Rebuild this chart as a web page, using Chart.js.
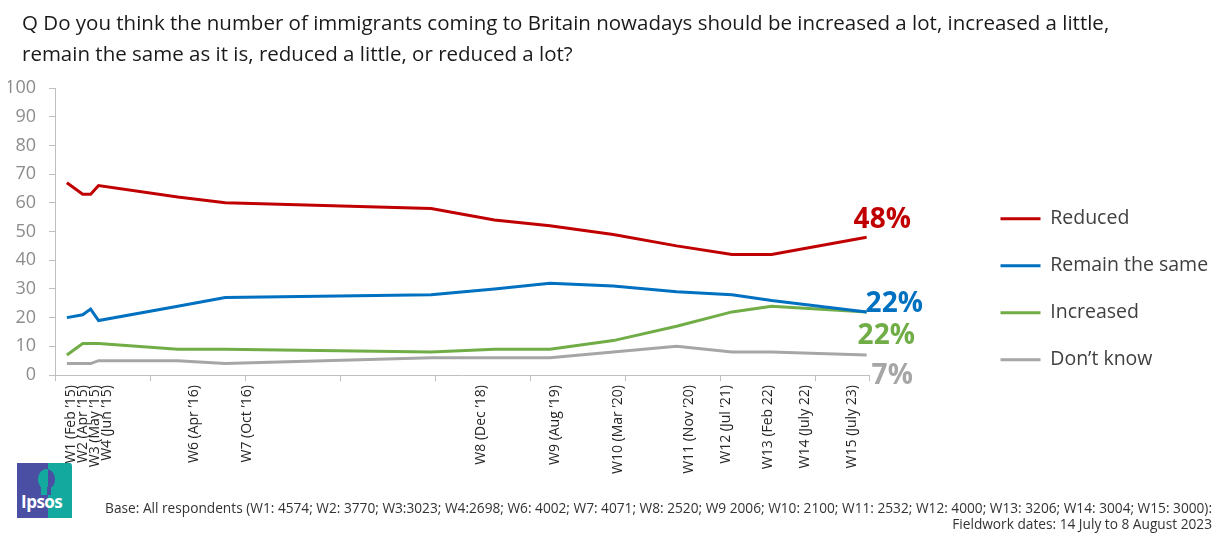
<!DOCTYPE html>
<html>
<head>
<meta charset="utf-8">
<script src="https://cdn.jsdelivr.net/npm/chart.js@4.4.1/dist/chart.umd.min.js"></script>
<style>
  body { margin: 0; background: #fff; font-family: 'Open Sans', sans-serif; }
  #wrap { position: relative; width: 1214px; height: 533px; overflow: hidden; }
  #wrap canvas { position: absolute; left: 0; top: 0; }
  .pergunta { position: absolute; left: 22px; top: 7px; font-size: 20.5px; line-height: 31px; color: #1a1a1a; white-space: nowrap; }
  .base { position: absolute; right: 2px; top: 500px; font-size: 13.7px; line-height: 16px; color: #333; text-align: right; white-space: nowrap; }
  .logo { position: absolute; left: 17px; top: 463px; width: 55px; height: 55px;
          background: linear-gradient(90deg, #4b4fa4 0 56%, #14a99e 56% 100%); border-top-right-radius: 2px 4px; }
  .logo .cabeca { position: absolute; left: 21px; top: 6px; width: 17px; height: 20px; border-radius: 50% 50% 45% 45%;
          background: linear-gradient(90deg, #14a99e 0 60%, #4b4fa4 60% 100%); }
  .logo .pescoco { position: absolute; left: 24px; top: 24px; width: 10px; height: 8px;
          background: linear-gradient(90deg, #14a99e 0 55%, #4b4fa4 55% 100%); }
  .logo span { position: absolute; left: 4px; bottom: 5px; color: #fff; font-weight: 700; font-size: 17px; letter-spacing: -0.5px; }
</style>
</head>
<body>
<div id="wrap">
  <canvas id="graficoImigracao" width="1214" height="533"></canvas>
  <div class="pergunta">Q Do you think the number of immigrants coming to Britain nowadays should be increased a lot, increased a little,<br>remain the same as it is, reduced a little, or reduced a lot?</div>
  <div class="logo"><div class="cabeca"></div><div class="pescoco"></div><span>Ipsos</span></div>
  <div class="base">Base: All respondents (W1: 4574; W2: 3770; W3:3023; W4:2698; W6: 4002; W7: 4071; W8: 2520; W9 2006; W10: 2100; W11: 2532; W12: 4000; W13: 3206; W14: 3004; W15: 3000):<br>Fieldwork dates: 14 July to 8 August 2023</div>
</div>
<script>
// ondas do inquérito e datas de campo
const waveDates = ['2015-02', '2015-04', '2015-05', '2015-06', '2016-04', '2016-10', '2018-12',
                   '2019-08', '2020-03', '2020-11', '2021-07', '2022-02', '2022-07', '2023-07'];

// séries (%)
const reduced    = [67, 63, 63, 66, 62, 60, 58, 54, 52, 49, 45, 42, 42, 48];
const remainSame = [20, 21, 23, 19, 24, 27, 28, 30, 32, 31, 29, 28, 26, 22];
const increased  = [7, 11, 11, 11, 9, 9, 8, 9, 9, 12, 17, 22, 24, 22];
const dontKnow   = [4, 4, 4, 5, 5, 4, 6, 6, 6, 8, 10, 8, 8, 7];

// rótulos das ondas no eixo x e onde ficam (meses desde jan 2015)
const waveLabels = ['W1 (Feb ’15)', 'W2 (Apr ’15)', 'W3 (May ’15)', 'W4 (Jun ’15)', 'W6 (Apr ’16)', 'W7 (Oct ’16)',
                    'W8 (Dec ’18)', 'W9 (Aug ’19)', 'W10 (Mar ’20)', 'W11 (Nov ’20)', 'W12 (Jul ’21)',
                    'W13 (Feb 22)', 'W14 (July 22)', 'W15 (July 23)'];
const labelMonths = [2.0, 3.5, 5.1, 6.6, 17.5, 24.2, 53.8, 63.2, 71.1, 80.1, 84.8, 90.0, 94.7, 100.6];

// meses desde jan 2015, campo tomado a meio do mês
const toMonth = d => {
    const [ano, mes] = d.split('-').map(Number);
    return (ano - 2015) * 12 + (mes - 1) + 0.5;
};
const serie = vals => vals.map((v, i) => ({ x: toMonth(waveDates[i]), y: v }));

Chart.defaults.font.family = "'Open Sans', sans-serif";

// percentagem final de cada linha, à direita
const rotulosFinais = {
    id: 'rotulosFinais',
    afterDatasetsDraw(chart, args, opts) {
        const { ctx } = chart;
        ctx.save();
        ctx.font = "bold 28px 'Open Sans', sans-serif";
        ctx.textBaseline = 'middle';
        ctx.textAlign = 'left';
        chart.data.datasets.forEach((ds, i) => {
            const meta = chart.getDatasetMeta(i);
            const pt = meta.data[meta.data.length - 1];
            const ultimo = ds.data[ds.data.length - 1].y;
            const [dx, dy] = opts.offsets[i];
            ctx.fillStyle = ds.borderColor;
            ctx.fillText(ultimo + '%', pt.x + dx, pt.y + dy);
        });
        ctx.restore();
    }
};

const cinzaEixo = '#bfbfbf';
const ctxImigracao = document.getElementById('graficoImigracao');

new Chart(ctxImigracao, {
    type: 'line',
    data: {
        datasets: [
            { label: 'Reduced', data: serie(reduced), borderColor: '#c00000', backgroundColor: '#c00000', borderWidth: 3 },
            { label: 'Remain the same', data: serie(remainSame), borderColor: '#0070c0', backgroundColor: '#0070c0', borderWidth: 3 },
            { label: 'Increased', data: serie(increased), borderColor: '#70ad47', backgroundColor: '#70ad47', borderWidth: 3 },
            { label: 'Don’t know', data: serie(dontKnow), borderColor: '#a6a6a6', backgroundColor: '#a6a6a6', borderWidth: 3 }
        ]
    },
    options: {
        responsive: false,
        animation: false,
        events: [],
        elements: {
            line: { tension: 0 },
            point: { radius: 0 }
        },
        layout: { padding: { top: 88, left: 8, right: 4, bottom: 55 } },
        scales: {
            x: {
                type: 'linear',
                min: 0,
                max: 102.8,
                weight: 0,
                ticks: { display: false, stepSize: 12 },
                grid: { drawOnChartArea: false, tickLength: 6, color: cinzaEixo },
                border: { color: cinzaEixo }
            },
            xOndas: {
                type: 'linear',
                position: 'bottom',
                min: 0,
                max: 102.8,
                weight: 1,
                afterBuildTicks: s => { s.ticks = labelMonths.map(v => ({ value: v })); },
                ticks: {
                    autoSkip: false,
                    minRotation: 90,
                    maxRotation: 90,
                    padding: 4,
                    color: '#262626',
                    font: { size: 14 },
                    callback: (v, i) => waveLabels[i]
                },
                grid: { display: false, drawTicks: false },
                border: { display: false }
            },
            y: {
                min: 0,
                max: 100,
                ticks: { stepSize: 10, color: '#8c8c8c', font: { size: 18 }, padding: 13 },
                grid: { drawOnChartArea: false, tickLength: 6, color: cinzaEixo },
                border: { color: cinzaEixo },
                afterFit: s => { s.width = 47; }
            },
            // espaço entre as linhas e a legenda, ocupado pelas percentagens
            folga: {
                position: 'right',
                ticks: { display: false },
                grid: { display: false, drawTicks: false },
                border: { display: false },
                afterFit: s => { s.width = 104; }
            }
        },
        plugins: {
            legend: {
                position: 'right',
                align: 'start',
                maxWidth: 237,
                // título vazio só empurra a legenda para baixo
                title: { display: true, text: '', font: { size: 12 }, padding: { top: 79, bottom: 0 } },
                labels: {
                    usePointStyle: true,
                    pointStyle: 'line',
                    pointStyleWidth: 40,
                    padding: 27.5,
                    color: '#404040',
                    font: { size: 19.5 }
                }
            },
            tooltip: { enabled: false },
            rotulosFinais: {
                offsets: [[-13, -17], [-1, -8], [-9, 24], [5, 21]]
            }
        }
    },
    plugins: [rotulosFinais]
});
</script>
</body>
</html>
